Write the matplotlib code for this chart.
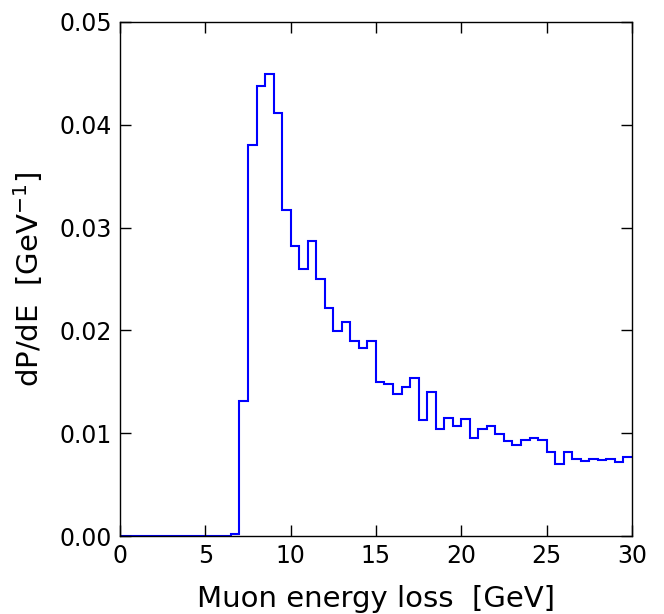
import numpy as np
import matplotlib
matplotlib.use('Agg')
import matplotlib.pyplot as plt

# bin edges 0..30 in 0.5 GeV steps
bin_edges = np.arange(0, 30.01, 0.5)
dpde = [0.0, 0.0, 0.0, 0.0, 0.0, 0.0, 0.0, 0.0, 0.0, 0.0,
        0.0, 0.0, 0.0, 0.0002, 0.0131, 0.0380, 0.0438, 0.0449, 0.0411, 0.0317,
        0.0282, 0.0260, 0.0287, 0.0250, 0.0222, 0.0199, 0.0208, 0.0190, 0.0183, 0.0190,
        0.0150, 0.0148, 0.0138, 0.0145, 0.0154, 0.0113, 0.0140, 0.0104, 0.0115, 0.0107,
        0.0114, 0.0095, 0.0104, 0.0107, 0.0099, 0.0092, 0.0089, 0.0093, 0.0095, 0.0093,
        0.0082, 0.0070, 0.0082, 0.0075, 0.0073, 0.0075, 0.0074, 0.0075, 0.0072, 0.0077]

fig = plt.figure(figsize=(6.64, 6.14), dpi=100)
ax = fig.add_axes([0.1807, 0.127, 0.771, 0.8372])

ax.stairs(dpde, bin_edges, baseline=None, color='b', linewidth=1.5, zorder=1)

ax.set_xlim(0, 30)
ax.set_ylim(0, 0.05)
ax.set_xticks([0, 5, 10, 15, 20, 25, 30])
ax.set_yticks([0.0, 0.01, 0.02, 0.03, 0.04, 0.05])
ax.yaxis.set_major_formatter(matplotlib.ticker.FormatStrFormatter('%.2f'))
ax.tick_params(direction='in', top=True, right=True, length=8, width=1,
               labelsize=17, pad=6)
for s in ax.spines.values():
    s.set_linewidth(1)
    s.set_zorder(3)

ax.set_xlabel('Muon energy loss  [GeV]', fontsize=21, labelpad=12)
ax.set_ylabel('dP/dE  [GeV$^{-1}$]', fontsize=21, labelpad=10)

fig.savefig('out.png', dpi=100)
